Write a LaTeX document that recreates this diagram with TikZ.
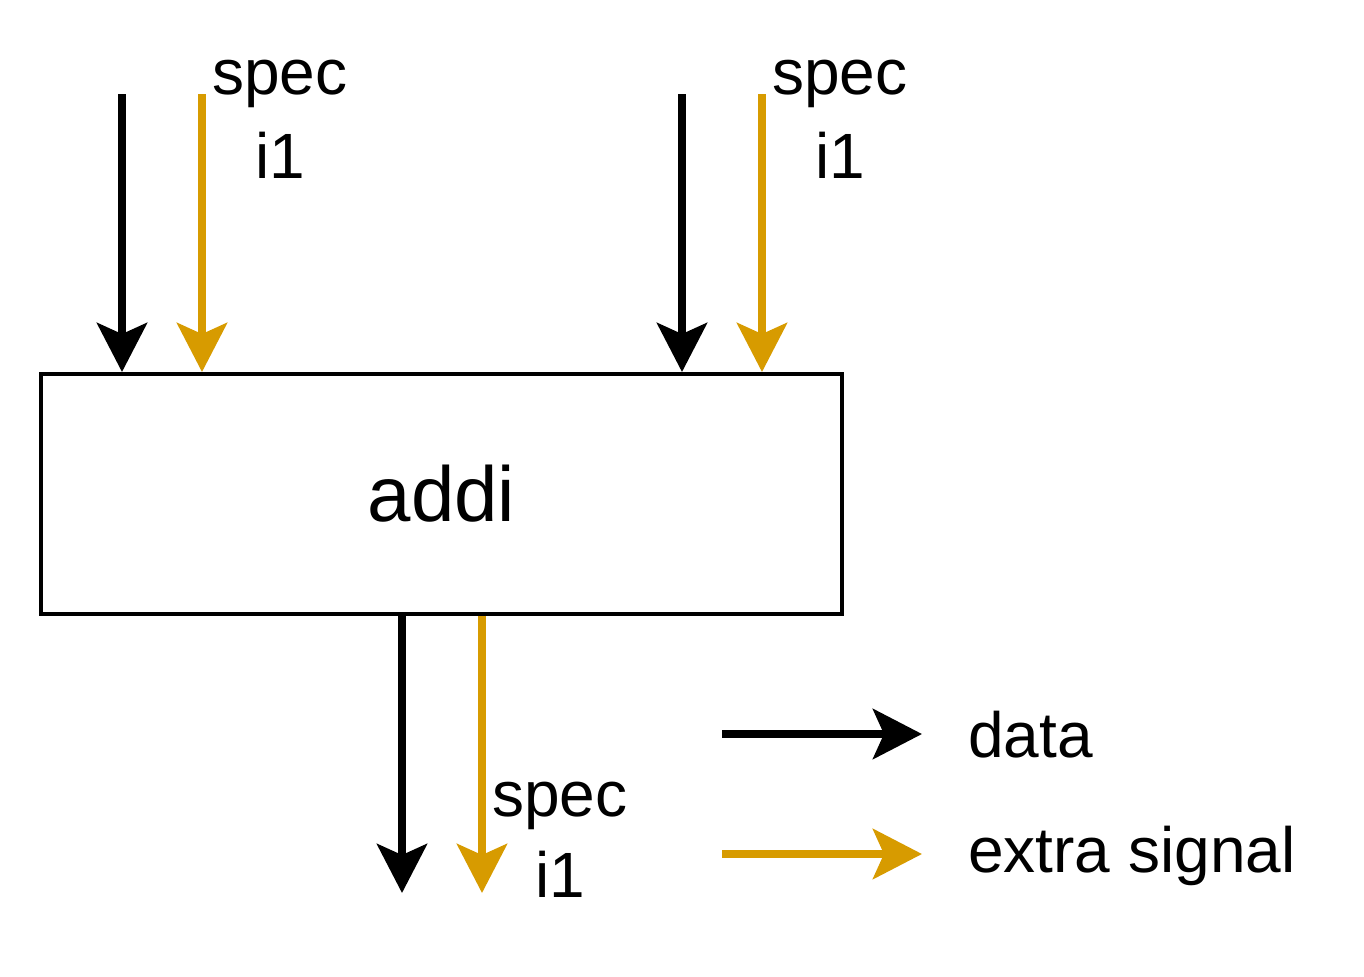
\documentclass[tikz,border=0pt]{standalone}
\usepackage{fontspec}
\setmainfont{Liberation Sans}
\usetikzlibrary{arrows.meta}
\definecolor{sig}{HTML}{D79B00}
\begin{document}
\begin{tikzpicture}[x=0.75pt,y=-0.75pt,
  flow/.style={line width=6pt,-{Stealth[length=36.75pt,width=37.5pt,inset=8.25pt]}},
  dataarrow/.style={flow,draw=black},
  sigarrow/.style={flow,draw=sig},
  lbl/.style={font=\fontsize{48}{56}\selectfont,inner sep=0pt}]
\useasboundingbox (0,0) rectangle (1364,976);
\node[draw,line width=3pt,minimum width=801*0.75pt,minimum height=240*0.75pt,inner sep=0pt,font=\fontsize{58.5}{66}\selectfont] (box) at (441.5,494) {addi};
% top inputs
\coordinate (a1) at (122,94);
\coordinate (b1) at (202,94);
\coordinate (a2) at (682,94);
\coordinate (b2) at (762,94);
\draw[dataarrow] (a1) -- (a1 |- box.north);
\draw[sigarrow] (b1) -- (b1 |- box.north);
\draw[dataarrow] (a2) -- (a2 |- box.north);
\draw[sigarrow] (b2) -- (b2 |- box.north);
\node[lbl] (s1) at (280,84) {spec};
\node[lbl] (i1) at (280,155) {i1};
\node[lbl] (s2) at (840,84) {spec};
\node[lbl] (i2) at (840,155) {i1};
% output
\coordinate (oa) at (402,893);
\coordinate (ob) at (482,893);
\draw[dataarrow] (oa |- box.south) -- (oa);
\draw[sigarrow] (ob |- box.south) -- (ob);
\node[lbl] (s3) at (560,806) {spec};
\node[lbl] (i3) at (560,874) {i1};
% legend
\coordinate (la) at (722,734);
\coordinate (lae) at (922,734);
\coordinate (lb) at (722,854);
\coordinate (lbe) at (922,854);
\draw[dataarrow] (la) -- (lae);
\draw[sigarrow] (lb) -- (lbe);
\node[lbl,anchor=west] (ld) at (968,735) {data};
\node[lbl,anchor=west] (ls) at (968,856) {extra signal};
\end{tikzpicture}
\end{document}
